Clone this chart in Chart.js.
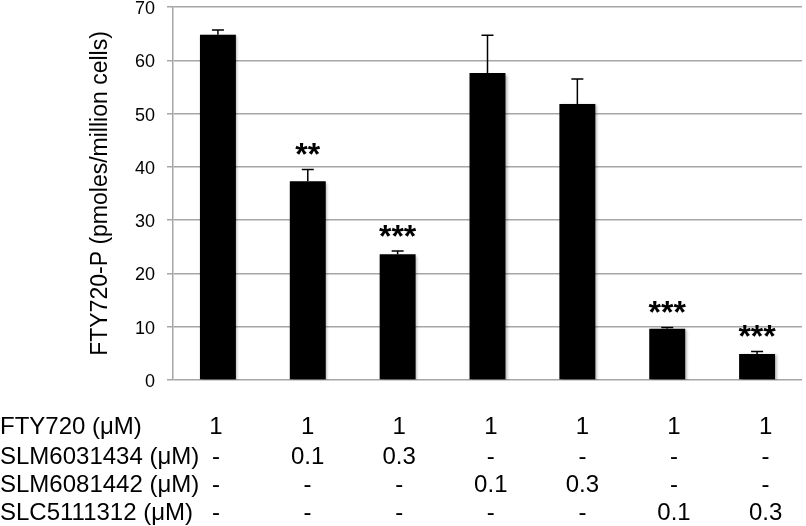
<!DOCTYPE html>
<html>
<head>
<meta charset="utf-8">
<script src="https://cdn.jsdelivr.net/npm/chart.js@4/dist/chart.umd.min.js"></script>
<style>
  html, body { margin: 0; padding: 0; background: #fff; }
  #c { display: block; }
</style>
</head>
<body>
<canvas id="c" width="806" height="526"></canvas>
<script>
// ---- data ----
const categories = ['Ctrl', 'SLM6031434 0.1', 'SLM6031434 0.3', 'SLM6081442 0.1', 'SLM6081442 0.3', 'SLC5111312 0.1', 'SLC5111312 0.3'];
const values = [64.8, 37.3, 23.6, 57.6, 51.8, 9.6, 4.9];
const errors = [0.9, 2.2, 0.6, 7.1, 4.7, 0.25, 0.45];
const stars = ['', '**', '***', '', '', '***', '***'];
const yTicks = [0, 10, 20, 30, 40, 50, 60, 70];
const yTitle = 'FTY720-P (pmoles/million cells)';

const rowLabels = ['FTY720 (μM)', 'SLM6031434 (μM)', 'SLM6081442 (μM)', 'SLC5111312 (μM)'];
const rowFTY720 = ['1', '1', '1', '1', '1', '1', '1'];
const rowSLM6031434 = ['-', '0.1', '0.3', '-', '-', '-', '-'];
const rowSLM6081442 = ['-', '-', '-', '0.1', '0.3', '-', '-'];
const rowSLC5111312 = ['-', '-', '-', '-', '-', '0.1', '0.3'];
const tableRows = [rowFTY720, rowSLM6031434, rowSLM6081442, rowSLC5111312];

// ---- layout constants ----
const TABLE_FONT = '24px "Liberation Sans", Arial, sans-serif';
const STAR_FONT = 'bold 32px "Liberation Sans", Arial, sans-serif';
const ROW_Y = [427, 457, 485, 513];
const COL_X0 = 216, COL_STEP = 91.6;

const errorBarPlugin = {
  id: 'errorBars',
  afterDatasetsDraw(chart) {
    const ctx = chart.ctx;
    const meta = chart.getDatasetMeta(0);
    const y = chart.scales.y;
    ctx.save();
    ctx.strokeStyle = '#000';
    ctx.lineWidth = 1.5;
    meta.data.forEach((bar, i) => {
      const top = y.getPixelForValue(values[i] + errors[i]);
      const base = y.getPixelForValue(values[i]);
      ctx.beginPath();
      ctx.moveTo(bar.x, base);
      ctx.lineTo(bar.x, top);
      ctx.moveTo(bar.x - 6, top);
      ctx.lineTo(bar.x + 6, top);
      ctx.stroke();
    });
    // stars
    ctx.fillStyle = '#000';
    ctx.font = STAR_FONT;
    ctx.textAlign = 'center';
    ctx.textBaseline = 'middle';
    meta.data.forEach((bar, i) => {
      if (!stars[i]) return;
      const top = y.getPixelForValue(values[i] + errors[i]);
      ctx.fillText(stars[i], bar.x, top - 13);
    });
    ctx.restore();
  }
};

const shadowPlugin = {
  id: 'barShadow',
  beforeDatasetDraw(chart) {
    const ctx = chart.ctx;
    ctx.save();
    ctx.shadowColor = 'rgba(0,0,0,0.35)';
    ctx.shadowBlur = 3;
    ctx.shadowOffsetX = 1.5;
    ctx.shadowOffsetY = 1.5;
  },
  afterDatasetDraw(chart) {
    chart.ctx.restore();
  }
};

const tablePlugin = {
  id: 'table',
  afterDraw(chart) {
    const ctx = chart.ctx;
    ctx.save();
    ctx.fillStyle = '#000';
    ctx.font = TABLE_FONT;
    ctx.textBaseline = 'middle';
    rowLabels.forEach((lab, r) => {
      ctx.textAlign = 'left';
      ctx.fillText(lab, 0, ROW_Y[r]);
      ctx.textAlign = 'center';
      tableRows[r].forEach((v, c) => {
        ctx.fillText(v, COL_X0 + c * COL_STEP, ROW_Y[r]);
      });
    });
    ctx.restore();
  }
};

new Chart(document.getElementById('c'), {
  type: 'bar',
  data: {
    labels: categories,
    datasets: [{
      data: values,
      backgroundColor: '#000',
      borderWidth: 0,
      barPercentage: 0.4,
      categoryPercentage: 1.0
    }]
  },
  options: {
    responsive: false,
    animation: false,
    devicePixelRatio: 1,
    layout: { padding: { left: 0, top: 7, right: 4, bottom: 146 } },
    plugins: { legend: { display: false }, tooltip: { enabled: false } },
    scales: {
      x: { display: false },
      y: {
        min: 0, max: 70,
        afterBuildTicks(scale) { scale.ticks = yTicks.map(v => ({ value: v })); },
        afterFit(scale) { scale.width = 173; scale.paddingTop = 0; scale.paddingBottom = 0; },
        ticks: {
          color: '#000',
          font: { family: '"Liberation Sans", Arial, sans-serif', size: 18 },
          padding: 12,
          labelOffset: 2
        },
        grid: { color: '#a6a6a6', lineWidth: 1.5, tickLength: 6, drawTicks: true },
        border: { color: '#a6a6a6', width: 1.5 },
        title: {
          display: true,
          text: yTitle,
          color: '#000',
          font: { family: '"Liberation Sans", Arial, sans-serif', size: 23 },
          padding: { top: 87, bottom: 0 }
        }
      }
    }
  },
  plugins: [shadowPlugin, errorBarPlugin, tablePlugin]
});
</script>
</body>
</html>
